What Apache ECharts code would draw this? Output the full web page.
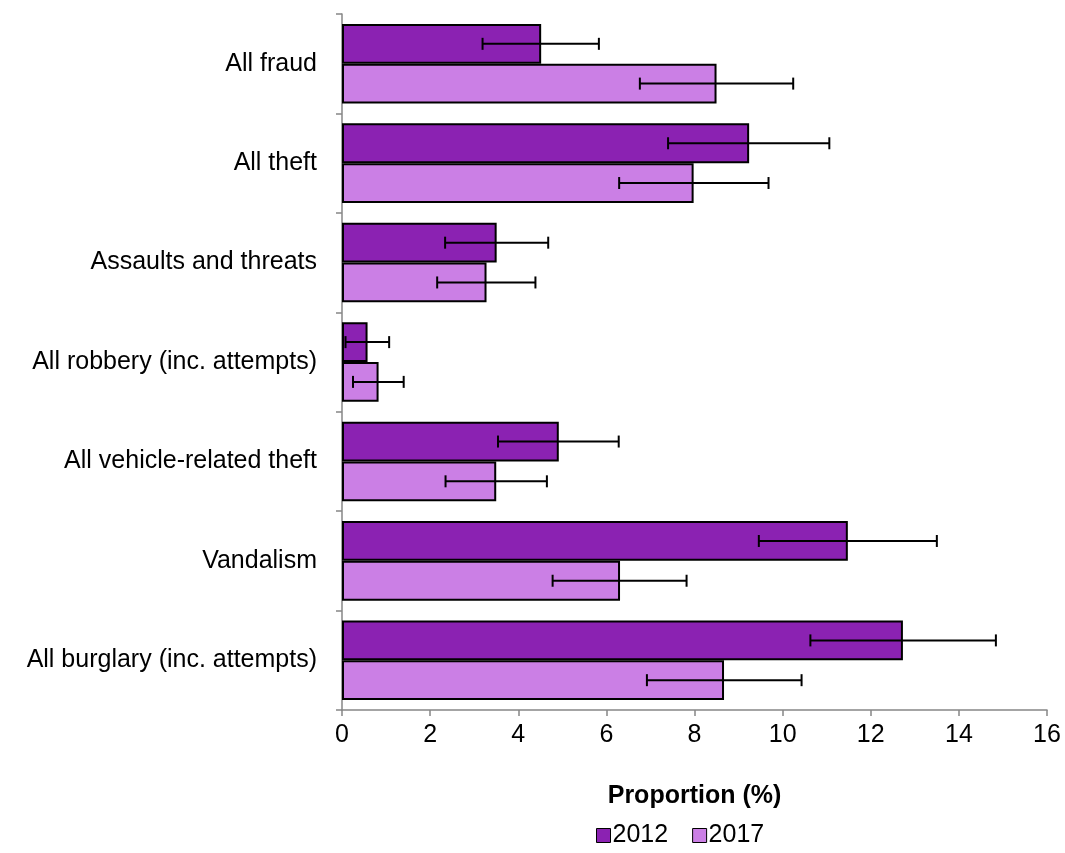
<!DOCTYPE html>
<html>
<head>
<meta charset="utf-8">
<script src="https://cdn.jsdelivr.net/npm/echarts@6/dist/echarts.min.js"></script>
<style>
  html, body { margin: 0; padding: 0; background: #fff; }
  #chart { width: 1065px; height: 853px; }
</style>
</head>
<body>
<div id="chart"></div>
<script>
// Crime categories, listed top to bottom
const categories = [
  'All fraud',
  'All theft',
  'Assaults and threats',
  'All robbery (inc. attempts)',
  'All vehicle-related theft',
  'Vandalism',
  'All burglary (inc. attempts)'
];
const seriesNames = ['2012', '2017'];

// Proportion (%) per category
const values2012 = [4.52, 9.24, 3.51, 0.58, 4.92, 11.48, 12.73];
const values2017 = [8.50, 7.98, 3.28, 0.83, 3.50, 6.31, 8.67];

// Confidence interval bounds
const lower2012 = [3.19, 7.40, 2.34, 0.08, 3.54, 9.46, 10.63];
const upper2012 = [5.83, 11.06, 4.68, 1.07, 6.28, 13.50, 14.84];
const lower2017 = [6.76, 6.29, 2.16, 0.25, 2.35, 4.78, 6.92];
const upper2017 = [10.24, 9.68, 4.39, 1.40, 4.65, 7.82, 10.43];

const xTicks = [0, 2, 4, 6, 8, 10, 12, 14, 16];

const colors = ['#8b22b2', '#cb7fe5'];
const FONT = 'Liberation Sans, Arial, sans-serif';
const FS = 25;

const chart = echarts.init(document.getElementById('chart'));

// Error bar renderer: slot -1 is the upper bar of a pair, +1 the lower one
function errorBarRenderer(slot) {
  return function (params, api) {
    const cat = api.value(0);
    const lo = api.coord([api.value(1), cat]);
    const hi = api.coord([api.value(2), cat]);
    const band = api.size([0, 1])[1];
    const y = lo[1] + slot * band * 0.2;
    const cap = 6;
    const style = { stroke: '#000', lineWidth: 2 };
    return {
      type: 'group',
      children: [
        { type: 'line', shape: { x1: lo[0], y1: y, x2: hi[0], y2: y }, style },
        { type: 'line', shape: { x1: lo[0], y1: y - cap, x2: lo[0], y2: y + cap }, style },
        { type: 'line', shape: { x1: hi[0], y1: y - cap, x2: hi[0], y2: y + cap }, style }
      ]
    };
  };
}

function errData(lo, hi) {
  return lo.map((v, i) => [i, v, hi[i]]);
}

chart.setOption({
  animation: false,
  backgroundColor: '#fff',
  textStyle: { fontFamily: FONT },
  grid: { left: 342, right: 18, top: 14, bottom: 143 },
  legend: {
    data: seriesNames.map((n, i) => ({
      name: n,
      icon: 'rect',
      itemStyle: { color: colors[i], borderColor: '#000', borderWidth: 1 }
    })),
    left: 591,
    top: 818,
    itemWidth: 14,
    itemHeight: 14,
    itemGap: 24,
    textStyle: { fontSize: FS, color: '#000', fontFamily: FONT, padding: [0, 0, 0, -3] }
  },
  xAxis: {
    type: 'value',
    min: xTicks[0],
    max: xTicks[xTicks.length - 1],
    interval: 2,
    name: 'Proportion (%)',
    nameLocation: 'middle',
    nameGap: 74,
    nameTextStyle: { fontSize: FS, fontWeight: 'bold', color: '#000', fontFamily: FONT },
    axisLine: { show: true, lineStyle: { color: '#868686', width: 1.5 } },
    axisTick: { show: true, length: 6, lineStyle: { color: '#868686', width: 1.5 } },
    axisLabel: { fontSize: FS, color: '#000', margin: 13, fontFamily: FONT },
    splitLine: { show: false }
  },
  yAxis: {
    type: 'category',
    data: categories,
    inverse: true,
    axisLine: { show: true, lineStyle: { color: '#868686', width: 1.5 } },
    axisTick: { show: true, length: 6, lineStyle: { color: '#868686', width: 1.5 } },
    axisLabel: { fontSize: FS, color: '#000', margin: 25, fontFamily: FONT }
  },
  series: [
    {
      name: seriesNames[0],
      type: 'bar',
      data: values2012,
      barGap: '0%',
      barCategoryGap: '20%',
      itemStyle: { color: colors[0], borderColor: '#000', borderWidth: 2 }
    },
    {
      name: seriesNames[1],
      type: 'bar',
      data: values2017,
      barGap: '0%',
      barCategoryGap: '20%',
      itemStyle: { color: colors[1], borderColor: '#000', borderWidth: 2 }
    },
    {
      type: 'custom',
      renderItem: errorBarRenderer(-1),
      data: errData(lower2012, upper2012),
      encode: { x: [1, 2], y: 0 },
      z: 10,
      silent: true
    },
    {
      type: 'custom',
      renderItem: errorBarRenderer(1),
      data: errData(lower2017, upper2017),
      encode: { x: [1, 2], y: 0 },
      z: 10,
      silent: true
    }
  ]
});
</script>
</body>
</html>
